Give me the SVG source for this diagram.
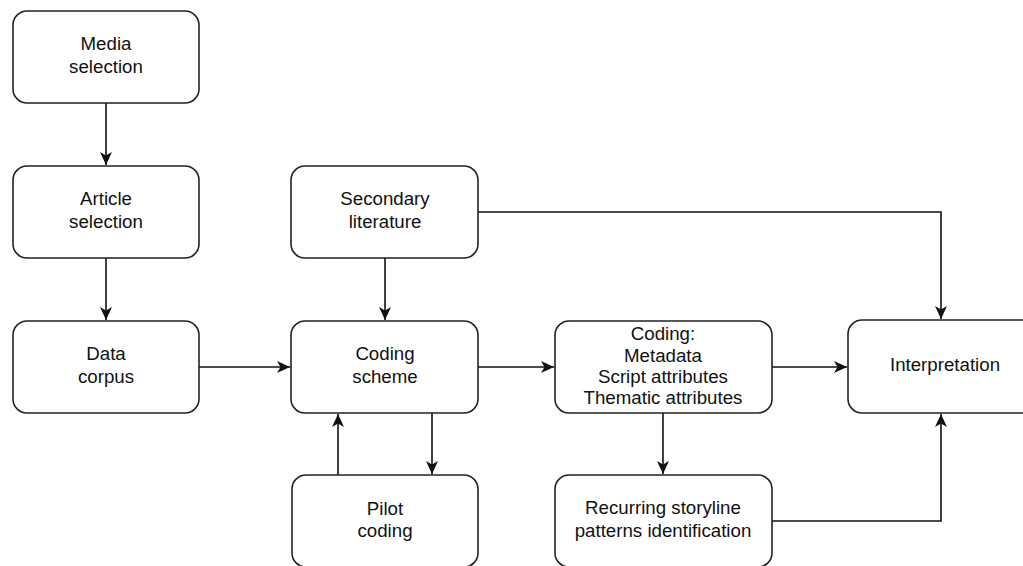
<svg xmlns="http://www.w3.org/2000/svg" width="1023" height="566" viewBox="0 0 1023 566">
<defs>
<style>
.box{fill:#fff;stroke:#222;stroke-width:1.6}
.t{font-family:"Liberation Sans",Arial,sans-serif;font-size:18.7px;fill:#111;text-anchor:middle}
.c{fill:none;stroke:#111;stroke-width:1.6}
</style>
<marker id="arr" markerUnits="userSpaceOnUse" markerWidth="14" markerHeight="12" viewBox="0 0 14 12" refX="13" refY="6" orient="auto">
<path d="M0,0 L13,6 L0,12 L3.5,6 z" fill="#111"/>
</marker>
</defs>
<rect width="1023" height="566" fill="#fff"/>
<g id="connectors">
<path class="c" d="M106,103 V165" marker-end="url(#arr)"/>
<path class="c" d="M106,258 V320" marker-end="url(#arr)"/>
<path class="c" d="M199,367 H290" marker-end="url(#arr)"/>
<path class="c" d="M385,258 V320" marker-end="url(#arr)"/>
<path class="c" d="M478,212 H941 V319" marker-end="url(#arr)"/>
<path class="c" d="M478,367 H554" marker-end="url(#arr)"/>
<path class="c" d="M772,367 H847" marker-end="url(#arr)"/>
<path class="c" d="M432,413 V474" marker-end="url(#arr)"/>
<path class="c" d="M338,475 V414" marker-end="url(#arr)"/>
<path class="c" d="M663,413 V474" marker-end="url(#arr)"/>
<path class="c" d="M772,521 H941 V414" marker-end="url(#arr)"/>
</g>
<g id="media-selection">
<rect class="box" x="13" y="11" width="186" height="92" rx="14"/>
<text class="t" x="106" y="50">Media</text>
<text class="t" x="106" y="73">selection</text>
</g>
<g id="article-selection">
<rect class="box" x="13" y="166" width="186" height="92" rx="14"/>
<text class="t" x="106" y="205">Article</text>
<text class="t" x="106" y="228">selection</text>
</g>
<g id="data-corpus">
<rect class="box" x="13" y="321" width="186" height="92" rx="14"/>
<text class="t" x="106" y="360">Data</text>
<text class="t" x="106" y="383">corpus</text>
</g>
<g id="secondary-literature">
<rect class="box" x="291" y="166" width="187" height="92" rx="14"/>
<text class="t" x="385" y="205">Secondary</text>
<text class="t" x="385" y="228">literature</text>
</g>
<g id="coding-scheme">
<rect class="box" x="291" y="321" width="187" height="92" rx="14"/>
<text class="t" x="385" y="360">Coding</text>
<text class="t" x="385" y="383">scheme</text>
</g>
<g id="pilot-coding">
<rect class="box" x="292" y="475" width="186" height="92" rx="14"/>
<text class="t" x="385" y="515">Pilot</text>
<text class="t" x="385" y="537">coding</text>
</g>
<g id="coding">
<rect class="box" x="555" y="321" width="217" height="92" rx="14"/>
<text class="t" x="663" y="340">Coding:</text>
<text class="t" x="663" y="361.5">Metadata</text>
<text class="t" x="663" y="383">Script attributes</text>
<text class="t" x="663" y="404">Thematic attributes</text>
</g>
<g id="recurring-patterns">
<rect class="box" x="555" y="475" width="217" height="92" rx="14"/>
<text class="t" x="663" y="514">Recurring storyline</text>
<text class="t" x="663" y="537">patterns identification</text>
</g>
<g id="interpretation">
<rect class="box" x="848" y="320" width="190" height="93" rx="14"/>
<text class="t" x="945" y="371">Interpretation</text>
</g>
</svg>
